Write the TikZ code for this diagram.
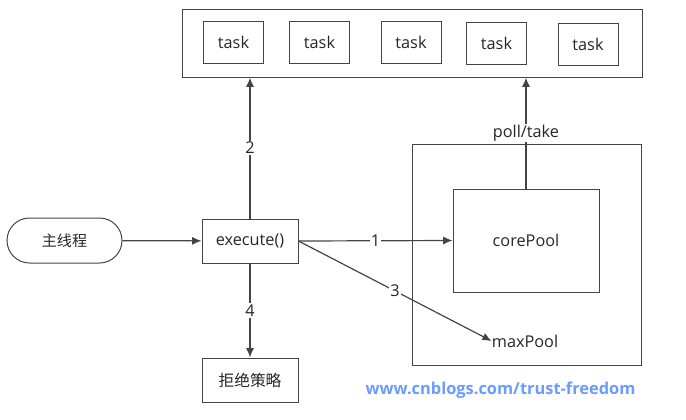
\documentclass[tikz,border=0pt]{standalone}
\usepackage{fontspec}
\setmainfont{Open Sans}
\newfontfamily\cjk{Noto Sans CJK SC}
\usetikzlibrary{arrows.meta,shapes.misc}
\definecolor{linegray}{HTML}{444444}
\definecolor{markblue}{HTML}{6A9BFF}
\tikzset{
  box/.style={draw=linegray, line width=0.75pt, rectangle, inner sep=0pt},
  taskbox/.style={box, minimum width=45pt, minimum height=31.5pt},
  flow/.style={draw=linegray, line width=0.9pt, -{Latex[length=7pt,width=6pt]}},
  num/.style={fill=white, inner sep=1pt}
}
\begin{document}
\begin{tikzpicture}[x=0.75pt, y=-0.75pt, font=\fontsize{12.2pt}{14pt}\selectfont, text=black!85]
    \useasboundingbox (0,0) rectangle (686,419);
    % queue with tasks
    \node[box, minimum width=345pt, minimum height=51pt] (queue) at (412,43){};
        \node[taskbox] (t1) at (233.5,42){task};
        \node[taskbox] (t2) at (319.5,42){task};
        \node[taskbox] (t3) at (411,42){task};
        \node[taskbox] (t4) at (496.5,43){task};
        \node[taskbox] (t5) at (588,44.5){task};

    \node[box, rounded rectangle, minimum width=86.25pt, minimum height=33.75pt, font=\fontsize{11.3pt}{13pt}\cjk] (main) at (64.5,240.5){主线程};
    \node[box, minimum width=72pt, minimum height=33pt] (exec) at (250,241){execute()};
    \node[box, minimum width=72pt, minimum height=33pt, font=\fontsize{11.8pt}{13pt}\cjk] (reject) at (250,380){拒绝策略};

    % pool
    \node[box, minimum width=171.75pt, minimum height=165.75pt] (pool) at (526.5,254.5){};
        \node[box, minimum width=109.5pt, minimum height=77.25pt] (core) at (526,240.5){corePool};
        \node[inner sep=0pt] (maxp) at (525,341){maxPool};

    \draw[flow] (main) -- (exec);
    \draw[flow] (exec.east) -- node[num]{1} (core.west);
    \draw[flow] (exec.north) -- node[num]{2} (queue.south -| exec.north);
    \draw[flow] (exec.east) -- node[num]{3} (maxp.west);
    \draw[flow] (exec.south) -- node[num]{4} (reject.north);
    \draw[flow] (core.north) -- node[num]{poll/take} (queue.south -| core.north);

    \node[text=markblue, font=\fontsize{12.3pt}{14pt}\selectfont\bfseries] (mark) at (500.5,390){www.cnblogs.com/trust-freedom};
\end{tikzpicture}
\end{document}
